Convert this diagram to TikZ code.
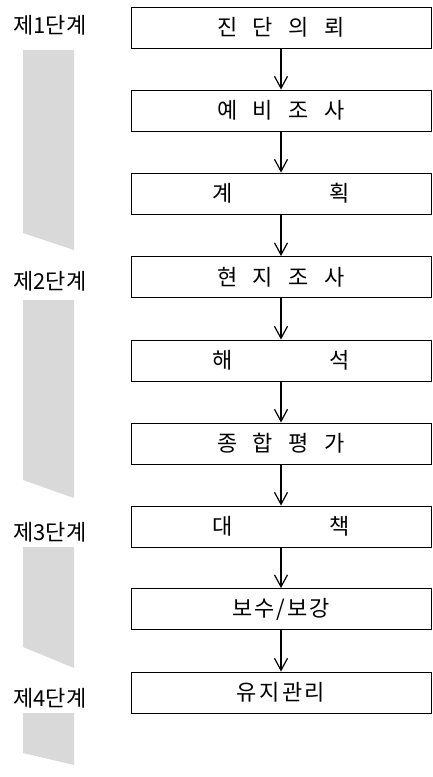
\documentclass[tikz,border=0pt]{standalone}
\usepackage{fontspec}
\newfontfamily\kr{Noto Sans CJK KR}
\usetikzlibrary{arrows.meta}
\begin{document}
\begin{tikzpicture}[x=1pt,y=-1pt,
  stepbox/.style={draw, line width=0.9pt, minimum width=300pt, minimum height=41pt, inner sep=0pt, font=\kr\fontsize{22}{22}\selectfont},
  stagelabel/.style={font=\kr\fontsize{22}{22}\selectfont, inner sep=0pt},
  bar/.style={fill=gray!30, draw=none},
  flow/.style={line width=1.4pt, -{Straight Barb[length=12pt,width=13pt,line width=1.2pt]}}]
\useasboundingbox (0,0) rectangle (432,777);

% boxes
\node[stepbox] (b1) at (281,27.5) {진\hspace{15.5pt}단\hspace{15.5pt}의\hspace{15.5pt}뢰};
\node[stepbox] (b2) at (281,110.5) {예\hspace{15.5pt}비\hspace{15.5pt}조\hspace{15.5pt}사};
\node[stepbox] (b3) at (281,193.5) {계\hspace{96pt}획};
\node[stepbox] (b4) at (281,277) {현\hspace{15.5pt}지\hspace{15.5pt}조\hspace{15.5pt}사};
\node[stepbox] (b5) at (281,360.5) {해\hspace{96pt}석};
\node[stepbox] (b6) at (281,443.5) {종\hspace{15.5pt}합\hspace{15.5pt}평\hspace{15.5pt}가};
\node[stepbox] (b7) at (281,526.5) {대\hspace{96pt}책};
\node[stepbox] (b8) at (281,609) {보\hspace{2pt}수\hspace{2pt}/\hspace{2pt}보\hspace{2pt}강};
\node[stepbox] (b9) at (281,692.5) {유\hspace{2.5pt}지\hspace{2.5pt}관\hspace{2.5pt}리};

% connectors
\draw[flow] (b1) -- (b2);
\draw[flow] (b2) -- (b3);
\draw[flow] (b3) -- (b4);
\draw[flow] (b4) -- (b5);
\draw[flow] (b5) -- (b6);
\draw[flow] (b6) -- (b7);
\draw[flow] (b7) -- (b8);
\draw[flow] (b8) -- (b9);

% stage labels
\node[stagelabel] (s1) at (50,25) {제1단계};
\node[stagelabel] (s2) at (50,281) {제2단계};
\node[stagelabel] (s3) at (50,532) {제3단계};
\node[stagelabel] (s4) at (50,698) {제4단계};

% shaded bars
\fill[bar] (23,50) -- (74,50) -- (74,250) -- (23,233) -- cycle;
\fill[bar] (23,300) -- (74,300) -- (74,498) -- (23,480) -- cycle;
\fill[bar] (23,547) -- (74,547) -- (74,668) -- (23,647) -- cycle;
\fill[bar] (23,713) -- (74,713) -- (74,765) -- (23,753) -- cycle;
\end{tikzpicture}
\end{document}
